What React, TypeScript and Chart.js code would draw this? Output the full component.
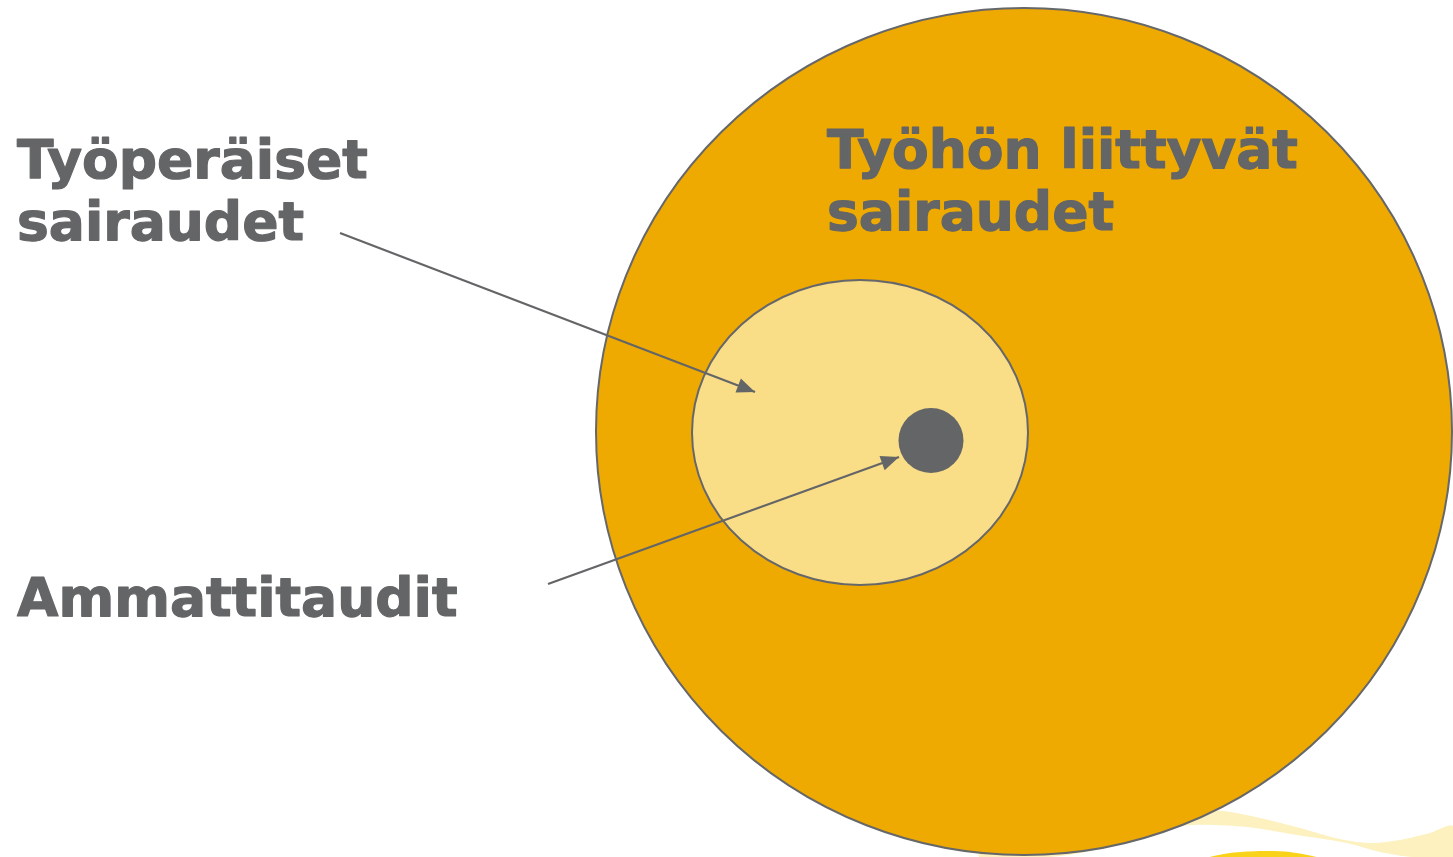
import React, { useEffect, useRef } from 'react';
import { Chart, registerables } from 'chart.js';

Chart.register(...registerables);

// ---- Diagram data (axis units: x 0..1453, y 0..857 downward) ----
const ellipseNames = ['Työhön liittyvät sairaudet', 'Työperäiset sairaudet'];
const ellipseCX = [1024, 860];
const ellipseCY = [431.5, 432.5];
const ellipseRX = [428, 168];
const ellipseRY = [423.5, 152.5];
const ellipseFill = ['#EEAA00', '#F9DD87'];

const dotX = [931];
const dotY = [440.5];

const arrowFromX = [340, 548];
const arrowFromY = [233, 584];
const arrowToX = [755, 899];
const arrowToY = [392, 457];

const labelLines = [['Työperäiset', 'sairaudet'], ['Työhön liittyvät', 'sairaudet'], ['Ammattitaudit']];
const labelX = [17, 827, 17];
const labelY = [178, 168, 616];

// decorative waves (bottom right)
const bandX = [1150, 1223, 1260, 1300, 1340, 1370, 1400, 1430, 1453, 1453, 1413, 1380, 1347, 1297, 1247, 1193, 1150, 1110, 1060, 980, 1000, 1150];
const bandY = [806, 811, 818, 828, 839, 843, 840, 833, 826, 857, 857, 852, 843, 835, 827, 825, 832, 846, 856, 858, 820, 806];
const blobX = [1205, 1230, 1263, 1290, 1318, 1205];
const blobY = [858, 853, 851, 852, 858, 858];

const GREY = '#646567';
const STROKE = '#66676A';

const toPts = (xs: number[], ys: number[]) => xs.map((x, i) => ({ x, y: ys[i] }));

const diagramPlugin = {
  id: 'diagram',
  beforeDatasetDraw(chart: any, args: any) {
    if (chart.data.datasets[args.index].label !== 'Ammattitaudit') return;
    const { ctx, scales } = chart;
    const sx = scales.x, sy = scales.y;
    ctx.save();
    for (let i = 0; i < ellipseNames.length; i++) {
      const cx = sx.getPixelForValue(ellipseCX[i]);
      const cy = sy.getPixelForValue(ellipseCY[i]);
      const rx = Math.abs(sx.getPixelForValue(ellipseCX[i] + ellipseRX[i]) - cx);
      const ry = Math.abs(sy.getPixelForValue(ellipseCY[i] + ellipseRY[i]) - cy);
      ctx.beginPath();
      ctx.ellipse(cx, cy, rx, ry, 0, 0, Math.PI * 2);
      ctx.fillStyle = ellipseFill[i];
      ctx.fill();
      ctx.lineWidth = 2;
      ctx.strokeStyle = STROKE;
      ctx.stroke();
    }
    ctx.restore();
  },
  afterDatasetsDraw(chart: any) {
    const { ctx, scales } = chart;
    const sx = scales.x, sy = scales.y;
    ctx.save();
    // arrowheads
    for (let i = 0; i < arrowToX.length; i++) {
      const x1 = sx.getPixelForValue(arrowFromX[i]);
      const y1 = sy.getPixelForValue(arrowFromY[i]);
      const x2 = sx.getPixelForValue(arrowToX[i]);
      const y2 = sy.getPixelForValue(arrowToY[i]);
      const a = Math.atan2(y2 - y1, x2 - x1);
      const len = 18, hw = 7.5;
      ctx.beginPath();
      ctx.moveTo(x2, y2);
      ctx.lineTo(x2 - len * Math.cos(a) + hw * Math.sin(a), y2 - len * Math.sin(a) - hw * Math.cos(a));
      ctx.lineTo(x2 - len * Math.cos(a) - hw * Math.sin(a), y2 - len * Math.sin(a) + hw * Math.cos(a));
      ctx.closePath();
      ctx.fillStyle = GREY;
      ctx.fill();
    }
    // labels
    ctx.font = 'bold 53.5px "DejaVu Sans", Verdana, sans-serif';
    ctx.fillStyle = GREY;
    ctx.strokeStyle = GREY;
    ctx.lineWidth = 1.2;
    ctx.lineJoin = 'round';
    ctx.textBaseline = 'alphabetic';
    ctx.textAlign = 'left';
    for (let i = 0; i < labelLines.length; i++) {
      const x = sx.getPixelForValue(labelX[i]);
      const y = sy.getPixelForValue(labelY[i]);
      labelLines[i].forEach((line, j) => {
        ctx.fillText(line, x, y + j * 62);
        ctx.strokeText(line, x, y + j * 62);
      });
    }
    ctx.restore();
  },
};

export default function App() {
  const ref = useRef<HTMLCanvasElement | null>(null);
  useEffect(() => {
    if (!ref.current) return;
    const chart = new Chart(ref.current, {
      type: 'scatter',
      data: {
        datasets: [
          {
            label: 'band',
            data: toPts(bandX, bandY),
            showLine: true,
            fill: 'shape',
            backgroundColor: '#FCF1BF',
            borderWidth: 0,
            pointRadius: 0,
            tension: 0.3,
            order: 5,
          } as any,
          {
            label: 'blob',
            data: toPts(blobX, blobY),
            showLine: true,
            fill: 'shape',
            backgroundColor: '#F8D31A',
            borderWidth: 0,
            pointRadius: 0,
            tension: 0.3,
            order: 4,
          } as any,
          {
            label: 'Ammattitaudit',
            data: toPts(dotX, dotY),
            pointRadius: 32.5,
            pointBackgroundColor: GREY,
            pointBorderWidth: 0,
            order: 2,
          } as any,
          ...arrowToX.map((_, i) => ({
            label: 'arrow' + i,
            data: [{ x: arrowFromX[i], y: arrowFromY[i] }, { x: arrowToX[i], y: arrowToY[i] }],
            showLine: true,
            borderColor: GREY,
            borderWidth: 2.2,
            pointRadius: 0,
            fill: false,
            order: 1,
          })) as any,
        ],
      },
      options: {
        animation: false,
        responsive: true,
        maintainAspectRatio: false,
        events: [],
        layout: { padding: 0, autoPadding: false },
        plugins: { legend: { display: false }, tooltip: { enabled: false }, title: { display: false } },
        scales: {
          x: { type: 'linear', min: 0, max: 1453, display: false },
          y: { type: 'linear', min: 0, max: 857, reverse: true, display: false },
        },
      },
      plugins: [diagramPlugin],
    });
    return () => chart.destroy();
  }, []);
  return (
    <div style={{ position: 'absolute', left: 0, top: 0, width: 1453, height: 857, background: '#fff' }}>
      <canvas ref={ref} />
    </div>
  );
}
